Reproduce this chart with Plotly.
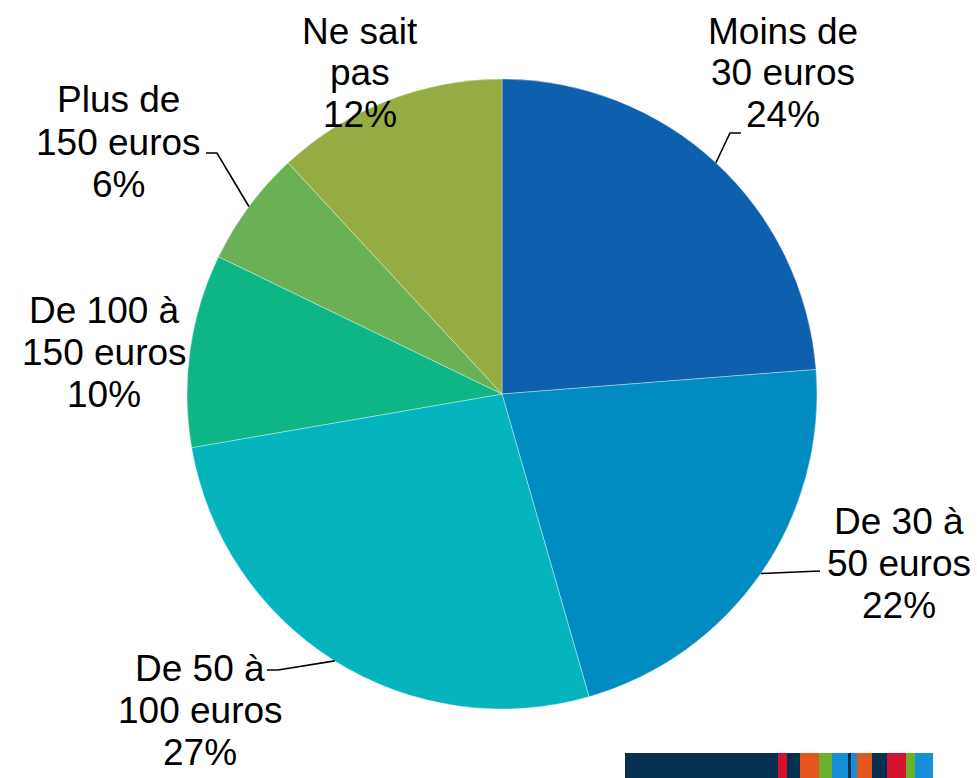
import math
import plotly.graph_objects as go

# ---- data ----
categories = ["Moins de 30 euros", "De 30 à 50 euros", "De 50 à 100 euros",
              "De 100 à 150 euros", "Plus de 150 euros", "Ne sait pas"]
label_lines = [["Moins de", "30 euros"], ["De 30 à", "50 euros"], ["De 50 à", "100 euros"],
               ["De 100 à", "150 euros"], ["Plus de", "150 euros"], ["Ne sait", "pas"]]
values = [24, 22, 27, 10, 6, 12]
colors = ["#0E5FAE", "#008CC0", "#06B4BE", "#0FB685", "#6AB155", "#94AC42"]

# ---- layout ----
W, H = 977, 778
CX, CY, R = 502, 394, 315
FONT = "Liberation Sans, Arial, sans-serif"
FS = 37
LINE = 42
# label anchor (x centre, first line y) in pixels
label_pos = [(783, 31), (899, 521), (200, 668), (104, 310), (118, 100), (360, 31)]
# leader lines: (elbow, end) in pixels, None if no leader
leaders = [((730, 133), (741, 133)), ((820, 571), None), ((278, 670), (267, 670)),
           None, ((217, 153), (206, 153)), None]


def px(x, y):
    return x / W, 1 - y / H


fig = go.Figure(go.Pie(
    labels=categories, values=values, sort=False, direction="clockwise", rotation=0,
    marker=dict(colors=colors, line=dict(color="rgba(255,255,255,0.6)", width=0.6)),
    textinfo="none", hoverinfo="label+percent", showlegend=False,
    domain=dict(x=[(CX - R) / W, (CX + R) / W], y=[(H - CY - R) / H, (H - CY + R) / H]),
))

annotations = []
shapes = []
total = sum(values)
cum = 0
for i, v in enumerate(values):
    mid = (cum + v / 2) / total * 2 * math.pi
    cum += v
    lx, ly = label_pos[i]
    lines = label_lines[i] + [f"{v}%"]
    for k, t in enumerate(lines):
        xx, yy = px(lx, ly + k * LINE)
        annotations.append(dict(x=xx, y=yy, xref="paper", yref="paper", text=t,
                                showarrow=False, xanchor="center", yanchor="middle",
                                font=dict(family=FONT, size=FS, color="#000000")))
    if leaders[i] is not None:
        sx, sy = CX + R * math.sin(mid), CY - R * math.cos(mid)
        pts = [(sx, sy), leaders[i][0]]
        if leaders[i][1] is not None:
            pts.append(leaders[i][1])
        path = ""
        for j, (a, b) in enumerate(pts):
            pxx, pyy = px(a, b)
            path += ("M" if j == 0 else " L") + f" {pxx:.5f} {pyy:.5f}"
        shapes.append(dict(type="path", path=path, xref="paper", yref="paper",
                           line=dict(color="#000000", width=1.6)))

# logo strip at the bottom right (partially cut off)
logo = [(625, 778, "#06304F"), (778, 787, "#D5122B"), (787, 800, "#06304F"),
        (800, 819, "#E5561E"), (819, 832, "#6AB22E"), (832, 848, "#1590D8"),
        (848, 851, "#06304F"), (851, 857, "#1590D8"), (857, 872, "#E5561E"),
        (872, 887, "#06304F"), (887, 906, "#D5122B"), (906, 915, "#6AB22E"),
        (915, 933, "#1590D8")]
for x0, x1, c in logo:
    a0, b0 = px(x0, 753)
    a1, b1 = px(x1, 778)
    shapes.append(dict(type="rect", xref="paper", yref="paper", x0=a0, x1=a1, y0=b1, y1=b0,
                       fillcolor=c, line=dict(width=0), layer="above"))

fig.update_layout(width=W, height=H, margin=dict(l=0, r=0, t=0, b=0),
                  paper_bgcolor="white", plot_bgcolor="white",
                  annotations=annotations, shapes=shapes)

fig.write_html("out.html", config={"displayModeBar": False},
               post_script="document.body.style.margin='0';")
